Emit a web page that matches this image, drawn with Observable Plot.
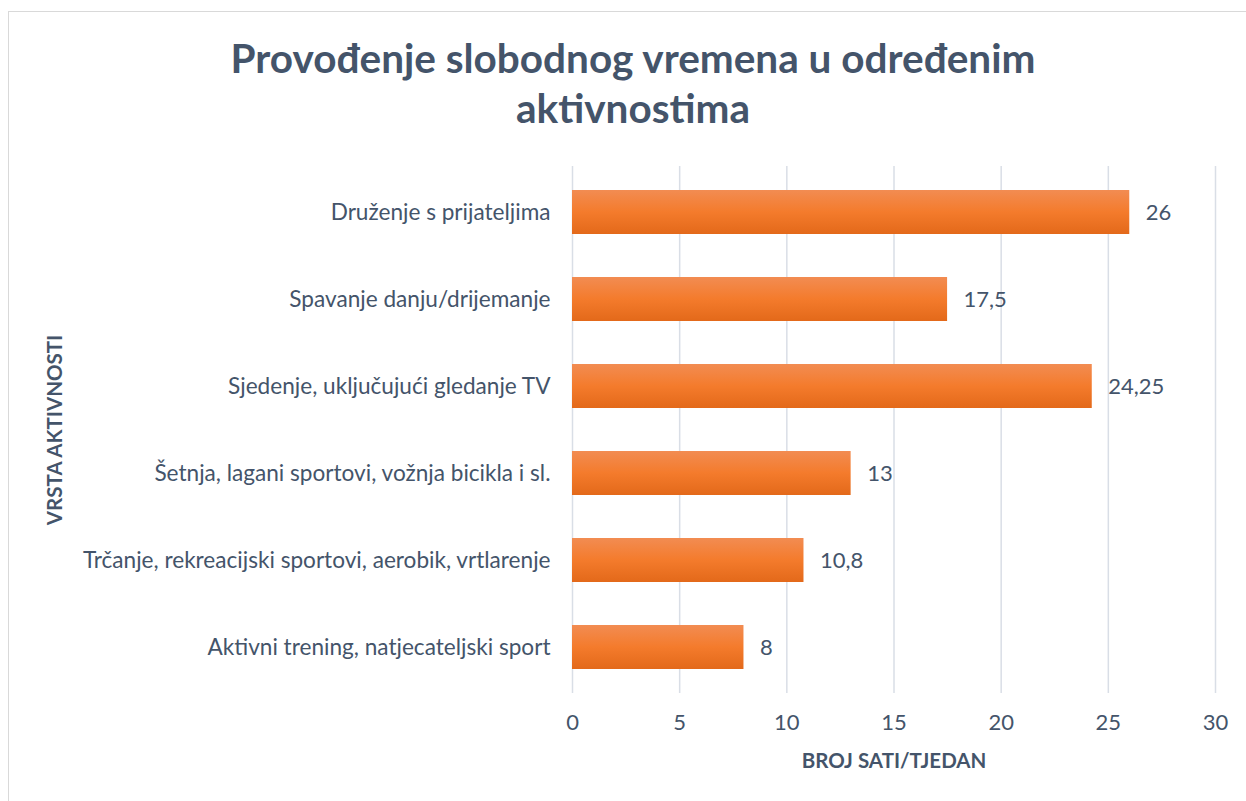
<!DOCTYPE html>
<html>
<head>
<meta charset="utf-8">
<script src="https://cdn.jsdelivr.net/npm/d3@7"></script>
<script src="https://cdn.jsdelivr.net/npm/@observablehq/plot@0.6"></script>
<style>
  html, body { margin: 0; padding: 0; width: 1246px; height: 801px; overflow: hidden; background: #fff; }
  #frame { position: absolute; left: 8px; top: 11px; width: 1400px; height: 900px; border: 1.5px solid #d9d9d9; box-sizing: border-box; }
  #title { position: absolute; left: 0; top: 33px; width: 1266px; text-align: center; font-family: Lato, sans-serif; font-weight: 700; font-size: 40.5px; line-height: 50px; color: #44546A; }
  #chart { position: absolute; left: 0; top: 140px; }
</style>
</head>
<body>
<div id="frame"></div>
<div id="title">Provođenje slobodnog vremena u određenim<br>aktivnostima</div>
<div id="chart"></div>
<script>
const categories = [
  "Druženje s prijateljima",
  "Spavanje danju/drijemanje",
  "Sjedenje, uključujući gledanje TV",
  "Šetnja, lagani sportovi, vožnja bicikla i sl.",
  "Trčanje, rekreacijski sportovi, aerobik, vrtlarenje",
  "Aktivni trening, natjecateljski sport"
];
const hours = [26, 17.5, 24.25, 13, 10.8, 8];
const valueLabels = ["26", "17,5", "24,25", "13", "10,8", "8"];
const xTicks = [0, 5, 10, 15, 20, 25, 30];
const xLabel = "BROJ SATI/TJEDAN";
const yLabel = "VRSTA AKTIVNOSTI";

const data = categories.map((c, i) => ({category: c, value: hours[i], label: valueLabels[i]}));
const textColor = "#44546A";

const gradient = () => {
  const defs = d3.create("svg:defs");
  const g = defs.append("linearGradient").attr("id", "barGrad").attr("x1", 0).attr("y1", 0).attr("x2", 0).attr("y2", 1);
  g.append("stop").attr("offset", "0%").attr("stop-color", "#F28C52");
  g.append("stop").attr("offset", "50%").attr("stop-color", "#F47B2C");
  g.append("stop").attr("offset", "100%").attr("stop-color", "#E3691A");
  return defs.node();
};

const chart = Plot.plot({
  width: 1246,
  height: 661,
  marginLeft: 572,
  marginRight: 31,
  marginTop: 26,
  marginBottom: 108,
  style: {fontFamily: "Lato, sans-serif", fontSize: "21.5px", color: textColor, background: "transparent"},
  x: {domain: [0, 30], ticks: xTicks},
  y: {domain: categories, paddingInner: 0.5, paddingOuter: 0.25},
  marks: [
    gradient,
    Plot.gridX(xTicks, {stroke: "#d9dee6", strokeOpacity: 1, strokeWidth: 1.5}),
    Plot.axisX(xTicks, {tickSize: 0, tickPadding: 21, fontSize: 22, fill: textColor, label: null, tickFormat: d => String(d)}),
    Plot.axisY({tickSize: 0, tickPadding: 22, fontSize: 22.6, fill: textColor, label: null}),
    Plot.barX(data, {x: "value", y: "category", fill: "url(#barGrad)"}),
    Plot.text(data, {x: "value", y: "category", text: "label", textAnchor: "start", dx: 16, fontSize: 22, fill: textColor}),
    Plot.text([xLabel], {frameAnchor: "bottom", textAnchor: "middle", lineAnchor: "middle", dy: 68, fontSize: 20.5, fontWeight: 700, fill: textColor}),
    Plot.text([yLabel], {frameAnchor: "left", textAnchor: "middle", lineAnchor: "middle", dx: -517, rotate: -90, fontSize: 20.5, fontWeight: 700, fill: textColor})
  ]
});
document.getElementById("chart").appendChild(chart);
</script>
</body>
</html>
